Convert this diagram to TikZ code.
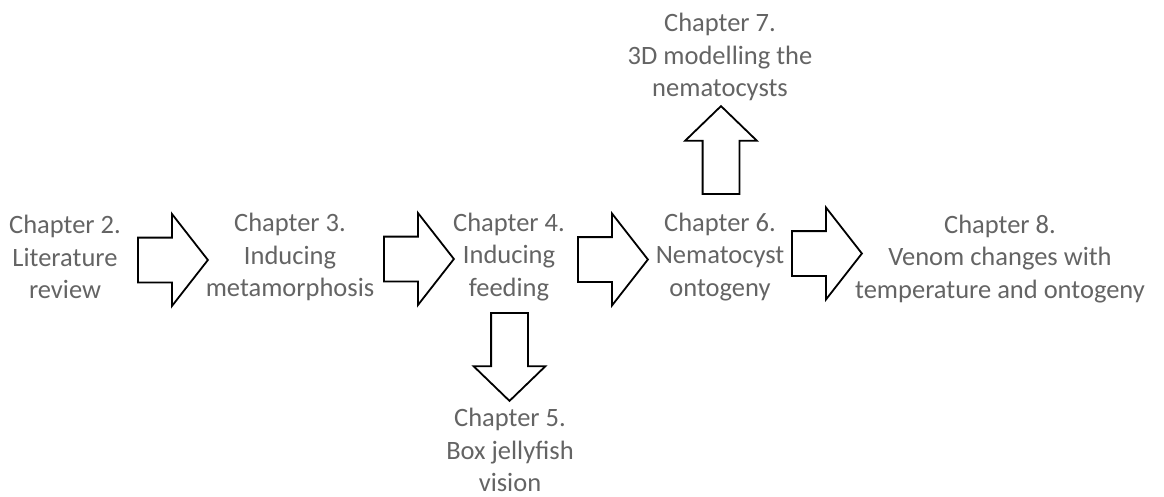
\documentclass[tikz,border=0pt]{standalone}
\usepackage{fontspec}
\setmainfont{Carlito}
\usetikzlibrary{shapes.arrows}
\definecolor{textgrey}{RGB}{100, 100, 100}

\begin{document}
\begin{tikzpicture}[
  x=1pt, y=-1pt,
  box/.style={align=center, text=textgrey, inner sep=0pt, font=\fontsize{26.5}{32.5}\selectfont},
  blockarrow/.style={single arrow, draw=black, line width=1.8pt, fill=white, inner xsep=0pt,
    single arrow head indent=0pt, anchor=tail},
  sidearrow/.style={blockarrow, inner ysep=21.5pt, minimum height=70pt,
    single arrow head extend=23.5pt, single arrow tip angle=104},
  uparrow/.style={blockarrow, inner ysep=17.5pt, minimum height=88pt,
    single arrow head extend=17.5pt, single arrow tip angle=92},
]
\useasboundingbox (0,0) rectangle (1164,497);

% Main line of chapters
\node[box] (ch2) at (65, 257) {Chapter 2.\\Literature\\review};
\node[box] (ch3) at (290, 257) {Chapter 3.\\Inducing\\metamorphosis};
\node[box] (ch4) at (509, 257) {Chapter 4.\\Inducing\\feeding};
\node[box] (ch6) at (720, 257) {Chapter 6.\\Nematocyst\\ontogeny};
\node[box] (ch8) at (1000, 259) {Chapter 8.\\Venom changes with\\temperature and ontogeny};

% Side chapters
\node[box] (ch7) at (720, 57) {Chapter 7.\\3D modelling the\\nematocysts};
\node[box] (ch5) at (510, 450) {Chapter 5.\\Box jellyfish\\vision};

% Block arrows between chapters (placed by their tails)
\node[sidearrow] (a23) at (137, 260) {};
\node[sidearrow] (a34) at (383, 259) {};
\node[sidearrow] (a46) at (577, 259.5) {};
\node[sidearrow] (a68) at (791, 253.5) {};
\node[uparrow, rotate=90] (a67) at (721, 195) {};
\node[uparrow, rotate=270] (a45) at (509.5, 312) {};
\end{tikzpicture}
\end{document}
